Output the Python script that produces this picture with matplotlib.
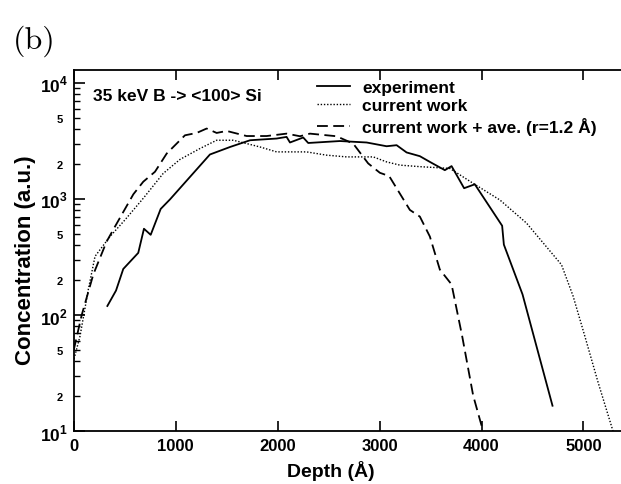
import numpy as np
import matplotlib.pyplot as plt
from matplotlib.ticker import FixedLocator, FixedFormatter

plt.rcParams['font.family'] = ['Liberation Sans', 'DejaVu Sans']
plt.rcParams['font.weight'] = 'bold'
plt.rcParams['mathtext.fontset'] = 'custom'
plt.rcParams['mathtext.rm'] = 'Liberation Sans:bold'
plt.rcParams['mathtext.bf'] = 'Liberation Sans:bold'

# experiment (solid)
exp_x = [330, 415, 486, 633, 689, 755, 853, 945, 1336, 1534, 1730, 1990, 2088, 2121,
         2251, 2300, 2611, 2873, 3069, 3167, 3265, 3395, 3493, 3640, 3706, 3829, 3934,
         4202, 4219, 4402, 4696]
exp_y = [120, 163, 250, 344, 555, 492, 822, 995, 2420, 2810, 3210, 3320, 3430, 3070,
         3390, 3040, 3160, 3070, 2850, 2910, 2520, 2340, 2090, 1773, 1922, 1240, 1340,
         589, 405, 151, 16.6]

# current work (dotted)
cur_x = [3, 62, 143, 209, 356, 503, 683, 878, 1042, 1238, 1402, 1565, 1696, 1826, 1990,
         2284, 2480, 2676, 2938, 3069, 3199, 3400, 3689, 3918, 4180, 4441, 4784, 4898,
         5013, 5143, 5290]
cur_y = [42, 66, 166, 321, 476, 662, 1017, 1663, 2193, 2723, 3210, 3210, 3005, 2811, 2548,
         2548, 2388, 2307, 2307, 2089, 1960, 1900, 1836, 1365, 982, 621, 272, 146,
         66, 26.4, 10]

# current work + ave. (dashed)
ave_x = [0, 78, 192, 323, 405, 585, 682, 797, 912, 1091, 1206, 1304, 1402, 1500, 1696,
         1892, 2088, 2219, 2317, 2578, 2741, 2888, 3003, 3094, 3297, 3395, 3493, 3591,
         3706, 3810, 3918, 4000, 4010]
ave_y = [50, 100, 224, 431, 580, 1100, 1410, 1718, 2466, 3540, 3710, 4050, 3710, 3860, 3490,
         3490, 3660, 3475, 3660, 3475, 3005, 2028, 1683, 1577, 806, 706, 476, 247,
         184, 66, 20.3, 11.2, 10]

fig = plt.figure(figsize=(6.21, 4.85), dpi=100)
ax = fig.add_axes([0.1187, 0.1087, 0.903, 0.7455])

ax.plot(exp_x, exp_y, color='black', lw=1.3, ls='-', label='experiment')
ax.plot(cur_x, cur_y, color='black', lw=1.0, ls=(0, (1, 1.3)), label='current work')
ax.plot(ave_x, ave_y, color='black', lw=1.3, ls=(0, (6, 3)),
        label='current work + ave. (r=1.2 Å)')

ax.set_yscale('log')
ax.set_xlim(0, 5500)
ax.set_ylim(10, 13000)

ax.xaxis.set_major_locator(FixedLocator([0, 1000, 2000, 3000, 4000, 5000]))
ax.tick_params(axis='x', which='both', direction='in', top=True, bottom=True,
               length=7, width=1.2, labelsize=12, pad=5)
major_y = [10, 100, 1000, 10000]
ax.yaxis.set_major_locator(FixedLocator(major_y))
ax.yaxis.set_major_formatter(FixedFormatter([r'$10^{1}$', r'$10^{2}$', r'$10^{3}$', r'$10^{4}$']))
minor_y = [m * 10 ** e for e in range(1, 4) for m in range(2, 10)]
minor_lab = [('%d' % m) if m in (2, 5) else '' for e in range(1, 4) for m in range(2, 10)]
ax.yaxis.set_minor_locator(FixedLocator(minor_y))
ax.yaxis.set_minor_formatter(FixedFormatter(minor_lab))
ax.tick_params(axis='y', which='major', direction='in', length=8, width=1.2,
               labelsize=12.5, pad=4, right=False)
ax.tick_params(axis='y', which='minor', direction='in', length=4, width=1.0,
               labelsize=8, pad=8, right=False)

for s in ax.spines.values():
    s.set_linewidth(1.3)
ax.spines['right'].set_visible(False)

ax.set_xlabel('Depth (Å)', fontsize=14, fontweight='bold')
ax.xaxis.set_label_coords(0.459, -0.08)
ax.set_ylabel('Concentration (a.u.)', fontsize=16, fontweight='bold')
ax.yaxis.set_label_coords(-0.068, 0.4765)

ax.text(0.034, 0.928, '35 keV B -> <100> Si', transform=ax.transAxes,
        fontsize=12.5, fontweight='bold', va='center', ha='left')
ax.legend(loc='upper left', bbox_to_anchor=(0.419, 0.997), frameon=False,
          borderpad=0, handlelength=1.9, handletextpad=0.7, labelspacing=0.2,
          prop={'size': 12.5, 'weight': 'bold'})

fig.text(0.02, 0.915, '(b)', fontsize=23, family=['cmr10', 'DejaVu Serif'],
         fontweight='normal', va='center')

fig.savefig('out.png', dpi=100)
